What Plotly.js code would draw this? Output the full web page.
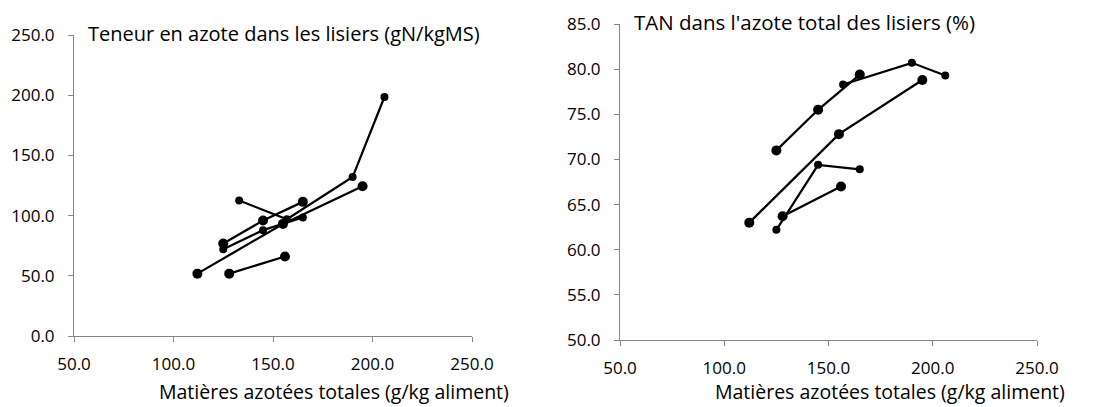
<!DOCTYPE html>
<html>
<head>
<meta charset="utf-8">
<script src="https://cdn.plot.ly/plotly-3.0.1.min.js"></script>
<style>html,body{margin:0;padding:0;background:#fff;}#chart{width:1096px;height:407px;}</style>
</head>
<body>
<div id="chart"></div>
<script>
// Matières azotées totales (g/kg aliment) per series
const matS1 = [125, 145, 165];
const matS2 = [125, 145, 165];
const matS3 = [112, 155, 195];
const matS4 = [128, 156];
const matS5 = [133, 157, 190, 206];

// Teneur en azote dans les lisiers (gN/kgMS)
const azoteS1 = [76.8, 95.9, 111.4];
const azoteS2 = [72.0, 87.9, 98.4];
const azoteS3 = [51.8, 93.1, 124.4];
const azoteS4 = [51.8, 66.0];
const azoteS5 = [112.5, 97.0, 132.0, 198.5];

// TAN dans l'azote total des lisiers (%)
const tanS1 = [71.0, 75.5, 79.4];
const tanS2 = [62.2, 69.4, 68.9];
const tanS3 = [63.0, 72.8, 78.8];
const tanS4 = [63.7, 67.0];
const tanS5 = [null, 78.3, 80.7, 79.3];

const xTickVals = [50, 100, 150, 200, 250];
const xTickText = ["50.0", "100.0", "150.0", "200.0", "250.0"];
const yTickVals1 = [0, 50, 100, 150, 200, 250];
const yTickText1 = ["0.0", "50.0", "100.0", "150.0", "200.0", "250.0"];
const yTickVals2 = [50, 55, 60, 65, 70, 75, 80, 85];
const yTickText2 = ["50.0", "55.0", "60.0", "65.0", "70.0", "75.0", "80.0", "85.0"];

const leftTitle = "Teneur en azote dans les lisiers (gN/kgMS)";
const rightTitle = "TAN dans l'azote total des lisiers (%)";
const xTitle = "Matières azotées totales (g/kg aliment)";

const big = 10, small = 8;
function tr(x, y, xa, ya, size) {
  return {x: x, y: y, xaxis: xa, yaxis: ya, type: 'scatter', mode: 'lines+markers',
    line: {color: '#000', width: 2.25}, marker: {color: '#000', size: size},
    connectgaps: false, hoverinfo: 'skip', showlegend: false, cliponaxis: false};
}
const data = [
  tr(matS1, azoteS1, 'x', 'y', big),
  tr(matS2, azoteS2, 'x', 'y', small),
  tr(matS3, azoteS3, 'x', 'y', big),
  tr(matS4, azoteS4, 'x', 'y', big),
  tr(matS5, azoteS5, 'x', 'y', small),
  tr(matS1, tanS1, 'x2', 'y2', big),
  tr(matS2, tanS2, 'x2', 'y2', small),
  tr(matS3, tanS3, 'x2', 'y2', big),
  tr(matS4, tanS4, 'x2', 'y2', big),
  tr(matS5, tanS5, 'x2', 'y2', small)
];

const W = 1096, H = 407;
const tickFont = {family: 'Open Sans, sans-serif', size: 17, color: '#000'};
function xa(l, r, anchor) {
  return {domain: [l / W, r / W], range: [50, 250], anchor: anchor, tickvals: xTickVals, ticktext: xTickText,
    showgrid: false, zeroline: false, showline: true, linecolor: '#868686', linewidth: 1,
    ticks: 'outside', ticklen: 5, tickcolor: '#868686', tickfont: tickFont, ticklabelstandoff: 8};
}
function ya(b, t, lo, hi, vals, text, anchor) {
  return {domain: [1 - b / H, 1 - t / H], range: [lo, hi], anchor: anchor, tickvals: vals, ticktext: text,
    showgrid: false, zeroline: false, showline: true, linecolor: '#868686', linewidth: 1,
    ticks: 'outside', ticklen: 5, tickcolor: '#868686', tickfont: tickFont, ticklabelstandoff: 10};
}
const layout = {
  width: W, height: H, margin: {l: 0, r: 0, t: 0, b: 0},
  paper_bgcolor: '#fff', plot_bgcolor: '#fff', showlegend: false,
  xaxis: xa(74, 472, 'y'),
  yaxis: ya(336, 35, 0, 250, yTickVals1, yTickText1, 'x'),
  xaxis2: xa(620, 1037, 'y2'),
  yaxis2: ya(340, 24, 50, 85, yTickVals2, yTickText2, 'x2'),
  annotations: [
    {text: leftTitle, xref: 'paper', yref: 'paper', x: 86 / W, y: 1 - 33 / H, xanchor: 'left', yanchor: 'middle', showarrow: false, font: {family: 'Open Sans, sans-serif', size: 20, color: '#000'}},
    {text: rightTitle, xref: 'paper', yref: 'paper', x: 632 / W, y: 1 - 22 / H, xanchor: 'left', yanchor: 'middle', showarrow: false, font: {family: 'Open Sans, sans-serif', size: 20.5, color: '#000'}},
    {text: xTitle, xref: 'paper', yref: 'paper', x: 511 / W, y: 0, xanchor: 'right', yanchor: 'bottom', showarrow: false, font: {family: 'Open Sans, sans-serif', size: 19.5, color: '#000'}},
    {text: xTitle, xref: 'paper', yref: 'paper', x: 1067 / W, y: 0, xanchor: 'right', yanchor: 'bottom', showarrow: false, font: {family: 'Open Sans, sans-serif', size: 19.5, color: '#000'}}
  ]
};
Plotly.newPlot('chart', data, layout, {displayModeBar: false, staticPlot: true});
</script>
</body>
</html>
